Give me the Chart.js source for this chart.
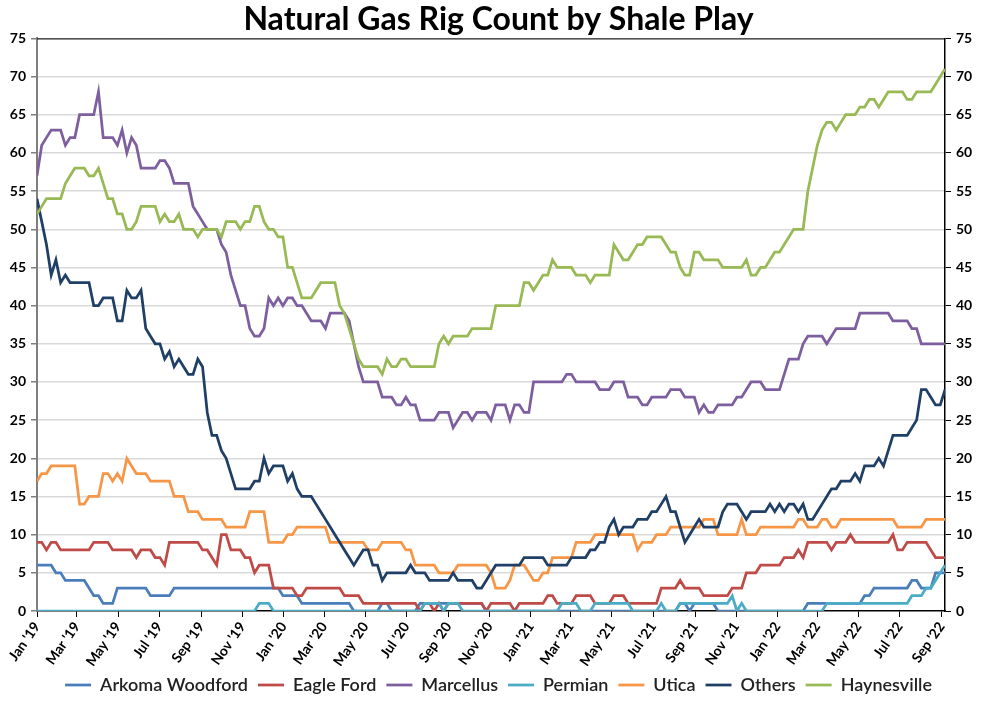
<!DOCTYPE html>
<html>
<head>
<meta charset="utf-8">
<title>Natural Gas Rig Count by Shale Play</title>
<script src="https://cdn.jsdelivr.net/npm/chart.js@4.4.0/dist/chart.umd.min.js"></script>
<style>
  html, body { margin: 0; padding: 0; background: #fff; }
  #wrap { width: 997px; height: 704px; }
</style>
</head>
<body>
<div id="wrap"><canvas id="rig-chart" width="997" height="704"></canvas></div>
<script>
// Weekly rig counts, first reading is the week of Fri 4 Jan 2019
const firstWeek = '2019-01-04';

const tickLabels = ["Jan '19", "Mar '19", "May '19", "Jul '19", "Sep '19", "Nov '19",
  "Jan '20", "Mar '20", "May '20", "Jul '20", "Sep '20", "Nov '20",
  "Jan '21", "Mar '21", "May '21", "Jul '21", "Sep '21", "Nov '21",
  "Jan '22", "Mar '22", "May '22", "Jul '22", "Sep '22"];
const tickDates = ['2019-01-04', '2019-03-04', '2019-05-04', '2019-07-04', '2019-09-04', '2019-11-04',
  '2020-01-04', '2020-03-04', '2020-05-04', '2020-07-04', '2020-09-04', '2020-11-04',
  '2021-01-04', '2021-03-04', '2021-05-04', '2021-07-04', '2021-09-04', '2021-11-04',
  '2022-01-04', '2022-03-04', '2022-05-04', '2022-07-04', '2022-09-04'];

const yTicks = [0, 5, 10, 15, 20, 25, 30, 35, 40, 45, 50, 55, 60, 65, 70, 75];

const arkomaWoodford = [
  6,6,6,6,5,5,4,4,4,4, 4,3,2,2,1,1,1,3,3,3, 3,3,3,3,2,2,2,2,2,3,
  3,3,3,3,3,3,3,3,3,3, 3,3,3,3,3,3,3,3,3,3, 3,3,2,2,2,2,1,1,1,1,
  1,1,1,1,1,1,1,0,0,0, 0,0,0,1,1,0,0,0,0,0, 0,1,1,1,1,1,1,1,1,1,
  1,1,1,1,1,0,0,0,0,0, 0,0,0,0,0,0,0,0,0,0, 0,0,0,0,0,0,0,0,0,0,
  0,0,0,0,0,0,0,0,0,0, 0,0,0,0,0,0,1,1,0,1, 1,1,1,1,0,0,0,0,0,0,
  0,0,0,0,0,0,0,0,0,0, 0,0,0,1,1,1,1,1,1,1, 1,1,1,1,1,2,2,3,3,3,
  3,3,3,3,3,4,4,3,3,3, 5,5,5
];
const eagleFord = [
  9,9,8,9,9,8,8,8,8,8, 8,8,9,9,9,9,8,8,8,8, 8,7,8,8,8,7,7,6,9,9,
  9,9,9,9,9,8,8,7,6,10, 10,8,8,8,7,7,5,6,6,6, 3,3,3,3,3,2,2,3,3,3,
  3,3,3,3,3,2,2,2,2,1, 1,1,1,1,1,1,1,1,1,1, 1,0,1,1,0,1,0,1,1,1,
  1,1,1,1,1,0,1,1,1,1, 1,0,1,1,1,1,1,1,2,2, 1,1,1,1,2,2,2,2,1,1,
  1,1,2,2,2,1,1,1,1,1, 1,1,3,3,3,3,4,3,3,3, 3,2,2,2,2,2,2,3,3,3,
  5,5,5,6,6,6,6,6,7,7, 7,8,7,9,9,9,9,9,8,9, 9,9,10,9,9,9,9,9,9,9,
  9,10,8,8,9,9,9,9,9,8, 7,7,7
];
const marcellus = [
  57,61,62,63,63,63,61,62,62,65, 65,65,65,68,62,62,62,61,63,60, 62,61,58,58,58,58,59,59,58,56,
  56,56,56,53,52,51,50,50,50,48, 47,44,42,40,40,37,36,36,37,41, 40,41,40,41,41,40,40,39,38,38,
  38,37,39,39,39,39,38,35,32,30, 30,30,30,28,28,28,27,27,28,27, 27,25,25,25,25,26,26,26,24,25,
  26,26,25,26,26,26,25,27,27,27, 25,27,27,26,26,30,30,30,30,30, 30,30,31,31,30,30,30,30,30,29,
  29,29,30,30,30,28,28,28,27,27, 28,28,28,28,29,29,29,28,28,28, 26,27,26,26,27,27,27,27,28,28,
  29,30,30,30,29,29,29,29,31,33, 33,33,35,36,36,36,36,35,36,37, 37,37,37,37,39,39,39,39,39,39,
  39,38,38,38,38,37,37,35,35,35, 35,35,35
];
const permian = [
  0,0,0,0,0,0,0,0,0,0, 0,0,0,0,0,0,0,0,0,0, 0,0,0,0,0,0,0,0,0,0,
  0,0,0,0,0,0,0,0,0,0, 0,0,0,0,0,0,0,1,1,1, 0,0,0,0,0,0,0,0,0,0,
  0,0,0,0,0,0,0,0,0,0, 0,0,0,0,0,0,0,0,0,0, 0,0,1,1,1,1,0,1,1,1,
  0,0,0,0,0,0,0,0,0,0, 0,0,0,0,0,0,0,0,0,0, 0,1,1,1,1,0,0,0,1,1,
  1,1,1,1,1,1,0,0,0,0, 0,0,1,0,0,0,1,1,1,1, 1,1,1,1,1,1,1,2,0,1,
  0,0,0,0,0,0,0,0,0,0, 0,0,0,0,0,0,0,1,1,1, 1,1,1,1,1,1,1,1,1,1,
  1,1,1,1,1,2,2,2,3,3, 4,5,6
];
const utica = [
  17,18,18,19,19,19,19,19,19,14, 14,15,15,15,18,18,17,18,17,20, 19,18,18,18,17,17,17,17,17,15,
  15,15,13,13,13,12,12,12,12,12, 11,11,11,11,11,13,13,13,13,9, 9,9,9,10,10,11,11,11,11,11,
  11,11,9,9,9,9,9,9,9,9, 8,8,8,9,9,9,9,9,8,8, 6,6,6,6,6,5,5,5,5,6,
  6,6,6,6,6,6,5,3,3,3, 4,6,6,6,5,4,4,5,5,7, 7,7,7,7,9,9,9,9,10,10,
  10,10,10,10,10,10,10,8,9,9, 9,10,10,10,11,11,11,11,11,11, 11,12,12,12,10,10,10,10,10,12,
  10,10,10,11,11,11,11,11,11,11, 11,12,12,11,11,11,12,12,11,11, 12,12,12,12,12,12,12,12,12,12,
  12,12,11,11,11,11,11,11,12,12, 12,12,12
];
const others = [
  54,51,48,44,46,43,44,43,43,43, 43,43,40,40,41,41,41,38,38,42, 41,41,42,37,36,35,35,33,34,32,
  33,32,31,31,33,32,26,23,23,21, 20,18,16,16,16,16,17,17,20,18, 19,19,19,17,18,16,15,15,15,14,
  13,12,11,10,9,8,7,6,7,8, 8,6,6,4,5,5,5,5,5,6, 5,5,5,4,4,4,4,4,5,4,
  4,4,4,3,3,4,5,6,6,6, 6,6,6,7,7,7,7,7,6,6, 6,6,6,7,7,7,7,8,8,9,
  9,11,12,10,11,11,11,12,12,12, 13,13,14,15,13,13,11,9,10,11, 12,11,11,11,11,13,14,14,14,13,
  12,13,13,13,13,14,13,14,13,14, 14,13,14,12,12,13,14,15,16,16, 17,17,17,18,17,19,19,19,20,19,
  21,23,23,23,23,24,25,29,29,28, 27,27,29
];
const haynesville = [
  52,53,54,54,54,54,56,57,58,58, 58,57,57,58,56,54,54,52,52,50, 50,51,53,53,53,53,51,52,51,51,
  52,50,50,50,49,50,50,50,50,49, 51,51,51,50,51,51,53,53,51,50, 50,49,49,45,45,43,41,41,41,42,
  43,43,43,43,40,39,37,35,33,32, 32,32,32,31,33,32,32,33,33,32, 32,32,32,32,32,35,36,35,36,36,
  36,36,37,37,37,37,37,40,40,40, 40,40,40,43,43,42,43,44,44,46, 45,45,45,45,44,44,44,43,44,44,
  44,44,48,47,46,46,47,48,48,49, 49,49,49,48,47,47,45,44,44,47, 47,46,46,46,46,45,45,45,45,45,
  46,44,44,45,45,46,47,47,48,49, 50,50,50,55,58,61,63,64,64,63, 64,65,65,65,66,66,67,67,66,67,
  68,68,68,68,67,67,68,68,68,68, 69,70,71
];

const seriesNames = ['Arkoma Woodford', 'Eagle Ford', 'Marcellus', 'Permian', 'Utica', 'Others', 'Haynesville'];
const seriesColors = ['#4A7EBB', '#BE4B48', '#7D5FA0', '#4BACC6', '#F79646', '#203F66', '#98B954'];
const seriesValues = [arkomaWoodford, eagleFord, marcellus, permian, utica, others, haynesville];

const DAY = 86400000;
function dayOffset(iso) {
  return Math.round((Date.parse(iso) - Date.parse(firstWeek)) / DAY);
}
const lastDay = (haynesville.length - 1) * 7;
const tickDays = tickDates.map(dayOffset);

const FONT = "Lato, 'Open Sans', sans-serif";

// thin black frame on the top edge of the plot area
const plotFrame = {
  id: 'plotFrame',
  afterDraw(chart) {
    const {ctx, chartArea} = chart;
    ctx.save();
    ctx.strokeStyle = '#000';
    ctx.lineWidth = 1;
    ctx.beginPath();
    ctx.moveTo(chartArea.left, chartArea.top + 0.5);
    ctx.lineTo(chartArea.right, chartArea.top + 0.5);
    ctx.stroke();
    ctx.restore();
  }
};

const yTickFont = { family: FONT, size: 14, weight: 'bold' };

new Chart(document.getElementById('rig-chart'), {
  type: 'line',
  data: {
    datasets: seriesValues.map((vals, i) => ({
      label: seriesNames[i],
      data: vals.map((v, w) => ({ x: w * 7, y: v })),
      borderColor: seriesColors[i],
      backgroundColor: seriesColors[i],
      borderWidth: 2.75,
      pointRadius: 0,
      tension: 0,
      fill: false,
      order: -i  // later series drawn on top, like the original
    }))
  },
  options: {
    responsive: false,
    animation: false,
    layout: { padding: { left: 0, right: 0, top: 0, bottom: 0 } },
    plugins: {
      title: {
        display: true,
        text: 'Natural Gas Rig Count by Shale Play',
        color: '#000',
        font: { family: FONT, size: 32, weight: 'bold' },
        padding: { top: 0, bottom: 0 }
      },
      legend: {
        display: true,
        position: 'bottom',
        labels: {
          usePointStyle: true,
          pointStyle: 'line',
          pointStyleWidth: 26,
          padding: 10,
          color: '#222',
          font: { family: FONT, size: 18, weight: '600' },
          sort: (a, b) => a.datasetIndex - b.datasetIndex
        }
      },
      tooltip: { enabled: false }
    },
    scales: {
      x: {
        type: 'linear',
        min: 0,
        max: lastDay,
        afterBuildTicks: scale => {
          scale.ticks = tickDays.map(v => ({ value: v }));
        },
        afterFit: scale => { scale.height = 55; },
        ticks: {
          autoSkip: false,
          minRotation: 55,
          maxRotation: 55,
          padding: 2,
          color: '#000',
          font: { family: FONT, size: 14, weight: 'bold' },
          callback: (value, index) => tickLabels[index]
        },
        grid: { drawOnChartArea: false, tickLength: 6, tickColor: '#000' },
        border: { color: '#000', width: 1.5 }
      },
      y: {
        position: 'left',
        min: 0,
        max: 75,
        afterBuildTicks: scale => {
          scale.ticks = yTicks.map(v => ({ value: v }));
        },
        afterFit: scale => { scale.width = 37; },
        ticks: { color: '#000', padding: 5, font: yTickFont },
        grid: {
          color: ctx => (ctx.tick && ctx.tick.value === 0) ? 'rgba(0,0,0,0)' : '#D9D9D9',
          lineWidth: 1.5,
          tickColor: '#7F7F7F',
          tickLength: 6
        },
        border: { color: '#7F7F7F', width: 2 }
      },
      y2: {
        position: 'right',
        min: 0,
        max: 75,
        afterBuildTicks: scale => {
          scale.ticks = yTicks.map(v => ({ value: v }));
        },
        afterFit: scale => { scale.width = 52; },
        ticks: { color: '#000', padding: 5, font: yTickFont },
        grid: { drawOnChartArea: false, tickColor: '#000', tickLength: 6 },
        border: { color: '#000', width: 1.5 }
      }
    }
  },
  plugins: [plotFrame]
});
</script>
</body>
</html>
